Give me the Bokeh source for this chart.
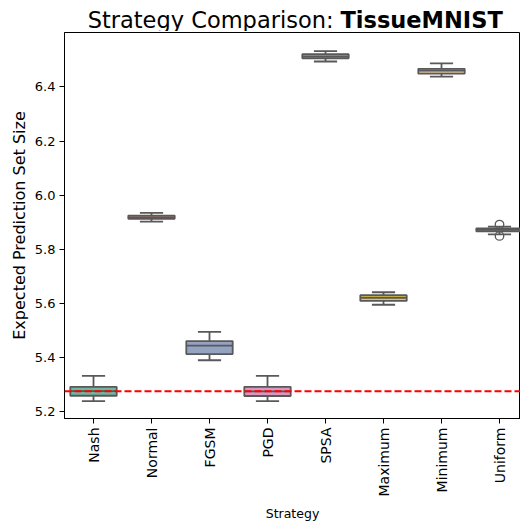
import math
from bokeh.plotting import figure
from bokeh.models import FixedTicker, Span, Range1d, ColumnDataSource
from bokeh.layouts import column
from bokeh.core.properties import value
from bokeh.embed import file_html
from bokeh.resources import INLINE

strategies = ["Nash", "Normal", "FGSM", "PGD", "SPSA", "Maximum", "Minimum", "Uniform"]
q1 = [5.260, 5.913, 5.414, 5.259, 6.506, 5.610, 6.449, 5.867]
median = [5.277, 5.918, 5.445, 5.276, 6.513, 5.621, 6.460, 5.872]
q3 = [5.293, 5.925, 5.462, 5.293, 6.521, 5.631, 6.467, 5.878]
lower = [5.240, 5.903, 5.391, 5.240, 6.494, 5.596, 6.438, 5.856]
upper = [5.333, 5.935, 5.496, 5.333, 6.532, 5.642, 6.487, 5.884]
outlier_strategy = ["Uniform", "Uniform"]
outlier_values = [5.892, 5.850]
nash_reference = 5.277
colors = ["#71b6a1", "#e99675", "#95a3c3", "#db96c0", "#a2c764", "#e5c849", "#dbc29e", "#b3b3b3"]
y_ticks = [5.2, 5.4, 5.6, 5.8, 6.0, 6.2, 6.4]
title_normal = "Strategy Comparison:"
title_bold = "TissueMNIST"

FONT = "DejaVu Sans"
EDGE = "#595959"
LW = 1.8
BOX_W = 0.8
CAP_W = 0.4

xs = list(range(len(strategies)))

# ---- title strip (mixed weights); its frame is aligned with the main frame (x 64..520) ----
t = figure(width=520, height=31, output_backend="svg", toolbar_location=None,
           title_location=None,
           x_range=Range1d(64, 520), y_range=Range1d(31, 0),
           x_axis_location=None, y_axis_location=None,
           min_border=0, min_border_left=64, min_border_right=0,
           min_border_top=0, min_border_bottom=0)
t.grid.visible = False
t.outline_line_color = None
t.background_fill_color = "white"
t.border_fill_color = "white"
t.text(x=[333], y=[19], text=[title_normal], text_align="right", text_baseline="alphabetic",
       text_font=value(FONT), text_font_size="22.5px", text_color="black")
t.text(x=[340], y=[19], text=[title_bold], text_align="left", text_baseline="alphabetic",
       text_font=value(FONT), text_font_size="22.5px", text_font_style="bold", text_color="black")

# ---- main plot ----
p = figure(width=520, height=493, output_backend="svg", toolbar_location=None,
           x_range=Range1d(-0.5, 7.362), y_range=Range1d(5.176, 6.601),
           min_border_left=64, min_border_right=0, min_border_top=1, min_border_bottom=104)

src = ColumnDataSource(dict(x=xs, q1=q1, q3=q3, med=median, lo=lower, hi=upper,
                            color=colors,
                            ml=[x - BOX_W / 2 for x in xs], mr=[x + BOX_W / 2 for x in xs],
                            cl=[x - CAP_W / 2 for x in xs], cr=[x + CAP_W / 2 for x in xs]))

p.segment(x0="x", y0="q3", x1="x", y1="hi", source=src, line_color=EDGE, line_width=LW)
p.segment(x0="x", y0="q1", x1="x", y1="lo", source=src, line_color=EDGE, line_width=LW)
p.segment(x0="cl", y0="hi", x1="cr", y1="hi", source=src, line_color=EDGE, line_width=LW)
p.segment(x0="cl", y0="lo", x1="cr", y1="lo", source=src, line_color=EDGE, line_width=LW)
p.vbar(x="x", width=BOX_W, bottom="q1", top="q3", source=src, fill_color="color",
       line_color=EDGE, line_width=LW)
p.segment(x0="ml", y0="med", x1="mr", y1="med", source=src, line_color=EDGE, line_width=LW)
ox = [strategies.index(s) for s in outlier_strategy]
p.scatter(ox, outlier_values, size=8.5, fill_color=None, line_color=EDGE, line_width=1.3)

p.add_layout(Span(location=nash_reference, dimension="width", line_color="red",
                  line_width=2, line_dash="7 3"))

p.xgrid.visible = False
p.ygrid.visible = False
p.outline_line_color = "black"
p.outline_line_width = 1
p.background_fill_color = "white"
p.border_fill_color = "white"

xa = p.xaxis[0]
xa.ticker = FixedTicker(ticks=xs)
xa.major_label_overrides = {i: s for i, s in enumerate(strategies)}
xa.major_label_orientation = math.pi / 2
xa.major_label_text_font = FONT
xa.major_label_text_font_size = "14px"
xa.major_label_text_color = "black"
xa.major_label_standoff = 4
xa.minor_tick_line_color = None
xa.major_tick_in = 0
xa.major_tick_out = 5
xa.major_tick_line_color = "black"
xa.axis_line_color = "black"
xa.axis_label = "Strategy"
xa.axis_label_text_font = FONT
xa.axis_label_text_font_size = "12.5px"
xa.axis_label_text_font_style = "normal"
xa.axis_label_text_color = "black"
xa.axis_label_standoff = 7

ya = p.yaxis[0]
ya.ticker = FixedTicker(ticks=y_ticks)
ya.major_label_overrides = {tk: f"{tk:.1f}" for tk in y_ticks}
ya.major_label_text_font = FONT
ya.major_label_text_font_size = "13px"
ya.major_label_text_color = "black"
ya.major_label_standoff = 4
ya.minor_tick_line_color = None
ya.major_tick_in = 0
ya.major_tick_out = 5
ya.major_tick_line_color = "black"
ya.axis_line_color = "black"
ya.axis_label = "Expected Prediction Set Size"
ya.axis_label_text_font = FONT
ya.axis_label_text_font_size = "16px"
ya.axis_label_text_font_style = "normal"
ya.axis_label_text_color = "black"
ya.axis_label_standoff = 3

layout = column(t, p, spacing=0)
open("out.html", "w").write(file_html(layout, INLINE))
